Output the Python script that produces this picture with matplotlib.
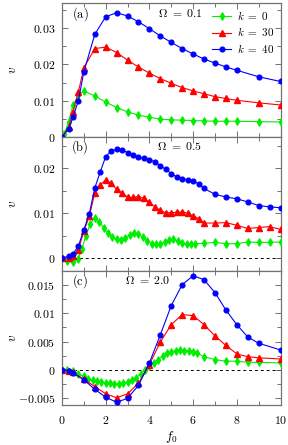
import numpy as np
import matplotlib
matplotlib.use('Agg')
from matplotlib import pyplot as plt
from matplotlib.ticker import MultipleLocator, FuncFormatter
from matplotlib.lines import Line2D

plt.rcParams['mathtext.fontset'] = 'cm'
plt.rcParams['font.family'] = 'serif'
plt.rcParams['font.serif'] = ['DejaVu Serif']

# ---- panel (a), Omega = 0.1
xa_k0 = [0, 0.1, 0.3, 0.5, 0.75, 1.0, 1.5, 2.0, 2.5, 3.0, 3.5, 4.0, 4.5, 5.0, 5.5,
         6.0, 6.5, 7.0, 7.5, 8.0, 9.0, 10]
va_k0 = [0, 0.0007, 0.0042, 0.0087, 0.0115, 0.0127, 0.0113, 0.0096, 0.0081, 0.0069,
         0.0060, 0.0054, 0.0049, 0.0047, 0.0046, 0.0045, 0.0044, 0.0043, 0.0043,
         0.0043, 0.0042, 0.0041]
xa = [0, 0.3, 0.5, 0.75, 1.0, 1.5, 2.0, 2.5, 3.0, 3.5, 4.0, 4.5, 5.0, 5.5, 6.0,
      6.5, 7.0, 7.5, 8.0, 9.0, 10]
va_k30 = [0, 0.0026, 0.0070, 0.0124, 0.0191, 0.0244, 0.0248, 0.0233, 0.0212, 0.0193,
          0.0176, 0.0161, 0.0148, 0.0136, 0.0127, 0.0119, 0.0111, 0.0106, 0.0101,
          0.0094, 0.0088]
va_k40 = [0, 0.0021, 0.0054, 0.0100, 0.0180, 0.0283, 0.0332, 0.0343, 0.0334, 0.0318,
          0.0299, 0.0279, 0.0261, 0.0244, 0.0229, 0.0215, 0.0204, 0.0193, 0.0184,
          0.0166, 0.0153]

# ---- panel (b), Omega = 0.5
xb_k0 = [0, 0.25, 0.5, 0.75, 0.9, 1.1, 1.3, 1.5, 1.7, 1.9, 2.1, 2.3, 2.5, 2.7, 2.9,
         3.1, 3.3, 3.5, 3.7, 3.9, 4.1, 4.3, 4.5, 4.7, 4.9, 5.1, 5.3, 5.5, 5.7, 5.9,
         6.1, 6.5, 7.0, 7.5, 8.0, 8.5, 9.0, 9.5, 10]
vb_k0 = [0, -0.0006, -0.0008, -0.0001, 0.0020, 0.0050, 0.0077, 0.0090, 0.0081,
         0.0068, 0.0055, 0.0047, 0.0042, 0.0041, 0.0045, 0.0051, 0.0055, 0.0053,
         0.0046, 0.0038, 0.0032, 0.0031, 0.0032, 0.0036, 0.0040, 0.0042, 0.0038,
         0.0033, 0.0031, 0.0031, 0.0032, 0.0033, 0.0035, 0.0032, 0.0032, 0.0036,
         0.0035, 0.0035, 0.0036]
xb = [0, 0.3, 0.5, 0.75, 1.0, 1.25, 1.5, 1.75, 2.0, 2.25, 2.5, 2.75, 3.0, 3.25, 3.5,
      3.75, 4.0, 4.25, 4.5, 4.75, 5.0, 5.25, 5.5, 5.75, 6.0, 6.25, 6.5, 7.0, 7.5,
      8.0, 8.5, 9.0, 9.5, 10]
vb_k30 = [0, 0.0001, 0.0005, 0.0019, 0.0060, 0.0093, 0.0145, 0.0163, 0.0174, 0.0167,
          0.0153, 0.0145, 0.0136, 0.0135, 0.0137, 0.0133, 0.0124, 0.0114, 0.0106,
          0.0101, 0.0101, 0.0102, 0.0103, 0.0100, 0.0094, 0.0088, 0.0078, 0.0078,
          0.0079, 0.0073, 0.0066, 0.0068, 0.0070, 0.0064]
vb_k40 = [0, 0.0004, 0.0009, 0.0027, 0.0063, 0.0099, 0.0156, 0.0192, 0.0226, 0.0238,
          0.0242, 0.0241, 0.0235, 0.0229, 0.0224, 0.0222, 0.0218, 0.0215, 0.0205,
          0.0198, 0.0188, 0.0181, 0.0177, 0.0174, 0.0171, 0.0166, 0.0155, 0.0142,
          0.0136, 0.0132, 0.0125, 0.0117, 0.0114, 0.0112]

# ---- panel (c), Omega = 2.0
xc_k0 = [0, 0.25, 0.5, 0.75, 1.0, 1.2, 1.4, 1.6, 1.8, 2.0, 2.2, 2.4, 2.6, 2.8, 3.0,
         3.2, 3.4, 3.6, 3.8, 4.0, 4.2, 4.4, 4.6, 4.8, 5.0, 5.2, 5.4, 5.6, 5.8, 6.0,
         6.2, 6.5, 7.0, 7.5, 8.0, 8.5, 9.0, 10]
vc_k0 = [0, 0, -0.0003, -0.0008, -0.0012, -0.0016, -0.0018, -0.0020, -0.0022,
         -0.0023, -0.0024, -0.0025, -0.0025, -0.0024, -0.0022, -0.0019, -0.0014,
         -0.0008, -0.0001, 0.0006, 0.0012, 0.0018, 0.0024, 0.0029, 0.0032, 0.0034,
         0.0035, 0.0034, 0.0034, 0.0032, 0.0029, 0.0023, 0.0018, 0.0015, 0.0015,
         0.0013, 0.0013, 0.0012]
xc = [0, 0.3, 0.5, 1.0, 1.5, 2.0, 2.5, 3.0, 3.5, 4.0, 4.5, 5.0, 5.5, 6.0, 6.5, 7.0,
      7.5, 8.0, 8.5, 9.0, 10]
vc_k30 = [0, -0.0002, -0.0005, -0.0017, -0.0030, -0.0043, -0.0050, -0.0043, -0.0024,
          0.0009, 0.0049, 0.0080, 0.0098, 0.0096, 0.0080, 0.0060, 0.0043, 0.0028,
          0.0023, 0.0021, 0.0019]
vc_k40 = [0, -0.0002, -0.0006, -0.0018, -0.0035, -0.0049, -0.0058, -0.0051, -0.0028,
          0.0012, 0.0062, 0.0114, 0.0151, 0.0167, 0.0160, 0.0137, 0.0106, 0.0080,
          0.0058, 0.0047, 0.0035]

panels = [
    ('(a)', r'$\Omega\ =\ 0.1$', 5.4, xa_k0, va_k0, xa, va_k30, xa, va_k40,
     (0, 0.037), 0.01, 0.005, False),
    ('(b)', r'$\Omega\ =\ 0.5$', 5.4, xb_k0, vb_k0, xb, vb_k30, xb, vb_k40,
     (-0.0028, 0.027), 0.01, 0.005, True),
    ('(c)', r'$\Omega\ =\ 2.0$', 3.9, xc_k0, vc_k0, xc, vc_k30, xc, vc_k40,
     (-0.0062, 0.0176), 0.005, 0.0025, True),
]

green = '#00ee00'
fs = 8.5

fig = plt.figure(figsize=(2.88, 4.45), dpi=100)
gs = fig.add_gridspec(3, 1, left=0.2153, right=0.974, bottom=0.091, top=0.9933,
                      hspace=0)

fmt = FuncFormatter(lambda v, p: '$%g$' % round(v, 6))

for i, (lab, om, omx, x0, y0, x1, y1, x2, y2, ylim, ymaj, ymin, zero) in enumerate(panels):
    ax = fig.add_subplot(gs[i])
    if zero:
        ax.axhline(0, color='k', ls=(0, (3, 3)), lw=0.7, zorder=1)
    ax.plot(x0, y0, color=green, marker='d', ms=3.5, lw=0.8, mec=green, zorder=3)
    ax.plot(x0, y0, ls='none', marker='|', ms=6, mew=1.0, color=green, zorder=3)
    ax.plot(x1, y1, color='red', marker='^', ms=3.8, lw=0.8, zorder=4)
    ax.plot(x2, y2, color='blue', marker='o', ms=3.4, lw=0.8, zorder=5)
    ax.set_xlim(0, 10)
    ax.set_ylim(*ylim)
    ax.xaxis.set_major_locator(MultipleLocator(2))
    ax.xaxis.set_minor_locator(MultipleLocator(1))
    ax.yaxis.set_major_locator(MultipleLocator(ymaj))
    ax.yaxis.set_minor_locator(MultipleLocator(ymin))
    ax.yaxis.set_major_formatter(fmt)
    ax.xaxis.set_major_formatter(fmt)
    ax.tick_params(which='both', direction='in', top=True, right=True,
                   color='0.35', width=0.6, labelsize=fs)
    ax.tick_params(which='major', length=4, pad=5)
    ax.tick_params(which='minor', length=3)
    ax.tick_params(axis='x', which='major', pad=7)
    for s in ax.spines.values():
        s.set_color('0.45')
        s.set_linewidth(0.9)
    ax.set_ylabel(r'$v$', fontsize=fs + 1)
    ax.yaxis.set_label_coords(-0.195, 0.5)
    ax.text(0.83, ylim[1] - (ylim[1] - ylim[0]) * 0.08, r'$\mathrm{' + lab + '}$',
            fontsize=fs + 0.5, ha='center', va='center')
    ax.text(omx, ylim[1] - (ylim[1] - ylim[0]) * 0.075, om, fontsize=fs,
            ha='center', va='center')
    if i < 2:
        ax.tick_params(axis='x', labelbottom=False)
    else:
        ax.set_xlabel(r'$f_0$', fontsize=fs + 1, labelpad=1)
    if i == 0:
        h0 = (Line2D([], [], color=green, marker='d', ms=3.5, lw=0.8),
              Line2D([], [], color=green, marker='|', ms=6, mew=1.0, ls='none'))
        h1 = Line2D([], [], color='red', marker='^', ms=3.8, lw=0.8)
        h2 = Line2D([], [], color='blue', marker='o', ms=3.4, lw=0.8)
        ax.legend([h0, h1, h2], [r'$k\ =\ 0$', r'$k\ =\ 30$', r'$k\ =\ 40$'],
                  loc='upper right', frameon=False, fontsize=8, handlelength=1.7,
                  handletextpad=0.5, labelspacing=0.3, borderaxespad=0.35,
                  borderpad=0.2)

plt.savefig('out.png', dpi=100)
